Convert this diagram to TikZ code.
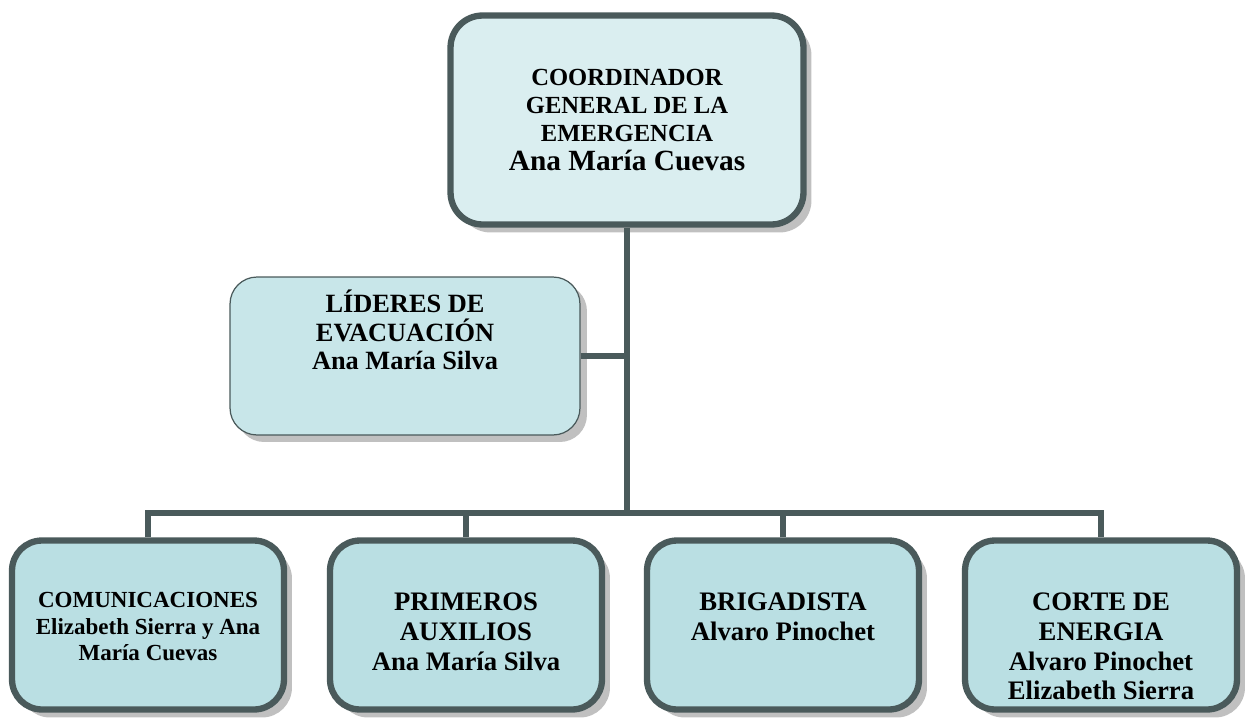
\documentclass[tikz,border=0pt]{standalone}
\usepackage{fontspec}
\setmainfont{Liberation Serif}
\usepackage{tikz}
\usetikzlibrary{positioning,shadows}

\definecolor{borde}{HTML}{4A5A5B}
\definecolor{cielo}{HTML}{DAEEF0}
\definecolor{cielomed}{HTML}{C8E6E9}
\definecolor{cielobajo}{HTML}{BADFE3}
\definecolor{sombra}{HTML}{C0C0C0}

\begin{document}
\begin{tikzpicture}[x=0.02cm,y=-0.02cm]
\tikzstyle{caja}=[draw=borde,line width=3.6pt,
  drop shadow={shadow xshift=0.16cm,shadow yshift=-0.16cm,fill=sombra,opacity=1}]
\tikzstyle{hijo}=[caja,fill=cielobajo,rounded corners=0.6cm,minimum width=5.44cm,minimum height=3.38cm]
\tikzstyle{txt}=[inner sep=0pt,align=center,font=\bfseries\fontsize{15.2}{17}\selectfont]
\tikzstyle{linea}=[draw=borde,line width=3.9pt]

\useasboundingbox (0,0) rectangle (1247,720);

% jefe
\node[caja,fill=cielo,rounded corners=0.64cm,minimum width=7.06cm,minimum height=4.18cm,
  align=center,font=\bfseries\fontsize{14}{15.9}\selectfont] (coord) at (627,120)
  {COORDINADOR\\GENERAL DE LA\\EMERGENCIA\\[1pt]{\fontsize{16.7}{18.5}\selectfont Ana María Cuevas}};

% apoyo
\node[draw=borde,line width=0.7pt,fill=cielomed,rounded corners=0.54cm,
  minimum width=7cm,minimum height=3.16cm,
  drop shadow={shadow xshift=0.14cm,shadow yshift=-0.14cm,fill=sombra,opacity=1}] (lider) at (405,356) {};
\node[txt,font=\bfseries\fontsize{15}{16.4}\selectfont,below=0.26cm of lider.north] (lidertxt)
  {LÍDERES DE\\EVACUACIÓN\\Ana María Silva};

% brigadas
\foreach \n/\x in {com/148,pa/466,bri/783,ce/1101}
  \node[hijo] (\n) at (\x,625) {};

\node[txt,font=\bfseries\fontsize{13.1}{15}\selectfont,below=1.1cm of com.north] (comtxt)
  {COMUNICACIONES\\Elizabeth Sierra y Ana\\María Cuevas};
\node[txt,below=1.1cm of pa.north] (patxt) {PRIMEROS\\AUXILIOS\\Ana María Silva};
\node[txt,below=1.1cm of bri.north] (britxt) {BRIGADISTA\\Alvaro Pinochet};
\node[txt,below=1.1cm of ce.north] (cetxt) {CORTE DE\\ENERGIA\\Alvaro Pinochet\\Elizabeth Sierra};

% lineas
\coordinate (bus) at (627,513);
\draw[linea] (coord.south) -- (coord.south |- bus);
\draw[linea] (com.north) -- (com.north |- bus) -- (ce.north |- bus) -- (ce.north);
\foreach \n in {pa,bri}
  \draw[linea] (\n.north) -- (\n.north |- bus);
\draw[linea] (lider.east) -- (lider.east -| coord.south);
\end{tikzpicture}
\end{document}
